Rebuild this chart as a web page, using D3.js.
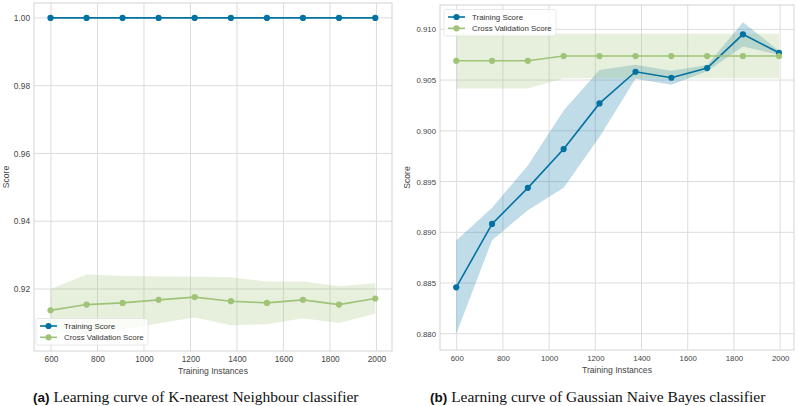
<!DOCTYPE html>
<html><head><meta charset="utf-8">
<script src="https://cdn.jsdelivr.net/npm/d3@7"></script>
<style>body{margin:0;background:#fff}svg{display:block}</style>
</head><body>
<svg id="chart" width="799" height="406"></svg>
<script>
// ---- data ----
const trainSizes = [598, 753, 908, 1063, 1218, 1374, 1529, 1684, 1839, 1995];
const knnTrain = [1, 1, 1, 1, 1, 1, 1, 1, 1, 1];
const knnTrainStd = [0, 0, 0, 0, 0, 0, 0, 0, 0, 0];
const knnCV = [0.9137, 0.9154, 0.9159, 0.9168, 0.9176, 0.9164, 0.9159, 0.9168, 0.9154, 0.9172];
const knnCVStd = [0.0063, 0.0089, 0.0079, 0.0069, 0.0060, 0.0071, 0.0063, 0.0054, 0.0054, 0.0045];
const gnbTrain = [0.88458, 0.89082, 0.89438, 0.8982, 0.9027, 0.90582, 0.90523, 0.90618, 0.90951, 0.90769];
const gnbTrainStd = [0.0046, 0.0016, 0.0022, 0.0038, 0.0033, 0.0007, 0.0007, 0.0003, 0.0012, 0.0002];
const gnbCV = [0.9069, 0.9069, 0.9069, 0.90737, 0.90737, 0.90737, 0.90737, 0.90737, 0.90737, 0.90737];
const gnbCVStd = [0.00272, 0.00272, 0.00272, 0.0022, 0.0022, 0.0022, 0.0022, 0.0022, 0.0022, 0.0022];
const xTicks = [600, 800, 1000, 1200, 1400, 1600, 1800, 2000];
const knnYTicks = [0.92, 0.94, 0.96, 0.98, 1.00];
const gnbYTicks = [0.880, 0.885, 0.890, 0.895, 0.900, 0.905, 0.910];
const seriesNames = ["Training Score", "Cross Validation Score"];
const colors = ["#0272a2", "#9fc377"];
const captions = [["(a)", " Learning curve of K-nearest Neighbour classifier"],
                  ["(b)", " Learning curve of Gaussian Naive Bayes classifier"]];

const svg = d3.select("#chart");
const sans = "'Liberation Sans', Arial, sans-serif";

function panel(cfg) {
  const {x0, x1, y0, y1, xDom, yDom, yTicks, yFmt, train, trainStd, cv, cvStd, legend, cap, capX, id, fs} = cfg;
  const x = d3.scaleLinear().domain(xDom).range([x0, x1]);
  const y = d3.scaleLinear().domain(yDom).range([y1, y0]);
  const g = svg.append("g");
  g.append("clipPath").attr("id", id).append("rect")
    .attr("x", x0).attr("y", y0).attr("width", x1 - x0).attr("height", y1 - y0);
  // grid
  const grid = g.append("g");
  grid.selectAll("line.gx").data(xTicks).join("line")
    .attr("x1", d => x(d)).attr("x2", d => x(d)).attr("y1", y0).attr("y2", y1)
    .attr("stroke", "#dcdcdc").attr("stroke-width", 1);
  grid.selectAll("line.gy").data(yTicks).join("line")
    .attr("x1", x0).attr("x2", x1).attr("y1", d => y(d)).attr("y2", d => y(d))
    .attr("stroke", "#dcdcdc").attr("stroke-width", 1);
  // axes (tick labels only)
  const xa = g.append("g").attr("transform", `translate(0,${y1})`)
    .call(d3.axisBottom(x).tickValues(xTicks).tickSize(0).tickPadding(5).tickFormat(d3.format("d")));
  const ya = g.append("g").attr("transform", `translate(${x0},0)`)
    .call(d3.axisLeft(y).tickValues(yTicks).tickSize(0).tickPadding(4).tickFormat(d3.format(yFmt)));
  [xa, ya].forEach(a => {
    a.select(".domain").remove();
    a.selectAll("text").attr("font-family", sans).attr("font-size", fs).attr("fill", "#444");
  });
  // frame
  g.append("rect").attr("x", x0).attr("y", y0).attr("width", x1 - x0).attr("height", y1 - y0)
    .attr("fill", "none").attr("stroke", "#d4d4d4").attr("stroke-width", 1);
  // labels
  g.append("text").attr("x", (x0 + x1) / 2).attr("y", y1 + 22.5).attr("text-anchor", "middle")
    .attr("font-family", sans).attr("font-size", 8.6).attr("fill", "#444").text("Training Instances");
  g.append("text").attr("transform", `translate(${x0 - cfg.scoreOff},${(y0 + y1) / 2}) rotate(-90)`)
    .attr("text-anchor", "middle").attr("font-family", sans).attr("font-size", 8.6).attr("fill", "#444").text("Score");
  // data
  const plot = g.append("g").attr("clip-path", `url(#${id})`);
  const sets = [[train, trainStd], [cv, cvStd]];
  sets.forEach(([m, s], k) => {
    const area = d3.area().x((d, i) => x(trainSizes[i])).y0((d, i) => y(m[i] - s[i])).y1((d, i) => y(m[i] + s[i]));
    plot.append("path").attr("d", area(m)).attr("fill", colors[k]).attr("fill-opacity", 0.25);
  });
  sets.forEach(([m, s], k) => {
    const line = d3.line().x((d, i) => x(trainSizes[i])).y(d => y(d));
    plot.append("path").attr("d", line(m)).attr("fill", "none").attr("stroke", colors[k]).attr("stroke-width", 1.6);
    plot.selectAll(null).data(m).join("circle")
      .attr("cx", (d, i) => x(trainSizes[i])).attr("cy", d => y(d)).attr("r", 3.1).attr("fill", colors[k]);
  });
  // legend
  const lg = g.append("g").attr("transform", `translate(${legend[0]},${legend[1]})`);
  lg.append("rect").attr("x", 0).attr("y", 0).attr("width", 112).attr("height", 26.5).attr("rx", 2)
    .attr("fill", "#fff").attr("fill-opacity", 0.8).attr("stroke", "#e2e2e2").attr("stroke-width", 0.8);
  seriesNames.forEach((nm, k) => {
    const yy = 7.5 + k * 11.3;
    lg.append("line").attr("x1", 4).attr("x2", 21).attr("y1", yy).attr("y2", yy)
      .attr("stroke", colors[k]).attr("stroke-width", 1.6);
    lg.append("circle").attr("cx", 12.5).attr("cy", yy).attr("r", 3.1).attr("fill", colors[k]);
    lg.append("text").attr("x", 28).attr("y", yy).attr("dy", "0.35em")
      .attr("font-family", sans).attr("font-size", 7.9).attr("fill", "#333").text(nm);
  });
  // caption
  const ct = svg.append("text").attr("x", capX).attr("y", 402).attr("fill", "#111");
  ct.append("tspan").attr("font-family", sans).attr("font-weight", "bold").attr("font-size", 13.5).text(cap[0]);
  ct.append("tspan").attr("font-family", "'Liberation Serif', 'Times New Roman', serif").attr("font-size", 15.5).text(cap[1]);
}

panel({id: "c1", x0: 34, x1: 392, y0: 3, y1: 351, xDom: [527, 2067], yDom: [0.9017, 1.0044],
  yTicks: knnYTicks, yFmt: ".2f", train: knnTrain, trainStd: knnTrainStd, cv: knnCV, cvStd: knnCVStd,
  legend: [36, 318.5], cap: captions[0], capX: 33, scoreOff: 25, fs: 8.3});
panel({id: "c2", x0: 440, x1: 794, y0: 5, y1: 350, xDom: [527.7, 2060], yDom: [0.8784, 0.9124],
  yTicks: gnbYTicks, yFmt: ".3f", train: gnbTrain, trainStd: gnbTrainStd, cv: gnbCV, cvStd: gnbCVStd,
  legend: [444, 9.5], cap: captions[1], capX: 430, scoreOff: 30, fs: 7.8});
</script>
</body></html>
